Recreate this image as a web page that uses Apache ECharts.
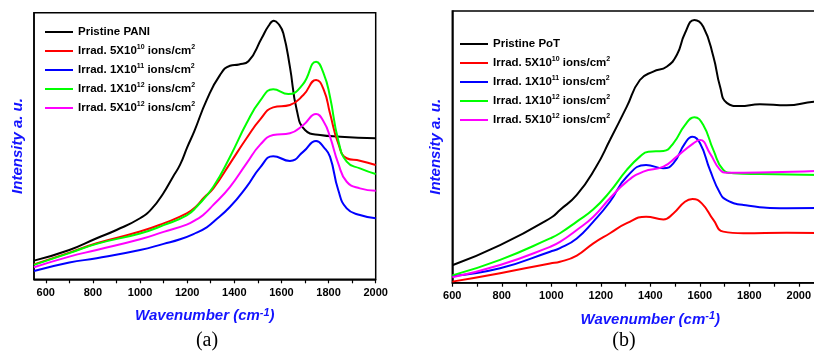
<!DOCTYPE html>
<html>
<head>
<meta charset="utf-8">
<script src="https://cdn.jsdelivr.net/npm/echarts@6/dist/echarts.min.js"></script>
<style>
  html, body { margin: 0; padding: 0; width: 814px; height: 355px; overflow: hidden; background: #fff; }
  #chartA { position: absolute; left: 0; top: 0; width: 410px; height: 355px; }
  #chartB { position: absolute; left: 410px; top: 0; width: 460px; height: 355px; }
</style>
</head>
<body>
<div id="chartA"></div>
<div id="chartB"></div>
<script>
// series labels (^ marks a superscript)
const namesA = ['Pristine PANI', 'Irrad. 5X10^10 ions/cm^2', 'Irrad. 1X10^11 ions/cm^2', 'Irrad. 1X10^12 ions/cm^2', 'Irrad. 5X10^12 ions/cm^2'];
const namesB = ['Pristine PoT', 'Irrad. 5X10^10 ions/cm^2', 'Irrad. 1X10^11 ions/cm^2', 'Irrad. 1X10^12 ions/cm^2', 'Irrad. 5X10^12 ions/cm^2'];
const colors = ['#000000', '#ff0000', '#0000ff', '#00ff00', '#ff00ff'];

const labelTicks = [600, 800, 1000, 1200, 1400, 1600, 1800, 2000];
const minorTicksA = [600, 700, 800, 900, 1000, 1100, 1200, 1300, 1400, 1500, 1600, 1700, 1800, 1900, 2000];
const minorTicksB = [600, 700, 800, 900, 1000, 1100, 1200, 1300, 1400, 1500, 1600, 1700, 1800, 1900, 2000, 2100, 2200];

// panel (a) : [wavenumber, intensity a.u.]
const paniPristine = [[550,7],[700,11],[816,15.4],[900,18.5],[1000,22.9],[1050,26.5],[1099,32.3],[1140,38.5],[1170,43],[1200,49.5],[1230,55.5],[1283,67.3],[1339,76.6],[1382,80.1],[1420,80.6],[1460,81.8],[1516,90.4],[1545,95],[1568,97],[1590,95.5],[1608,92.3],[1636,79.7],[1665,63.5],[1700,56],[1764,54.1],[1850,53.5],[2000,52.9]];
const paniIrr5e10 = [[550,5.6],[700,10],[816,13.5],[1000,17.9],[1100,21],[1198,24.7],[1240,27.5],[1270,30.5],[1311,34.1],[1382,43.5],[1452,52.9],[1510,60],[1565,64.5],[1636,65.4],[1693,69.1],[1747,74.8],[1780,71],[1806,62.3],[1841,51],[1877,45.4],[1933,44.5],[2000,42.9]];
const paniIrr1e11 = [[550,3.1],[700,6.3],[816,7.9],[1000,11],[1100,13.3],[1170,15],[1240,17.5],[1283,19.5],[1311,21.5],[1382,27.2],[1452,34.7],[1510,42],[1565,46.2],[1636,44.4],[1693,47.9],[1747,51.9],[1780,49.5],[1806,46],[1841,33.5],[1877,26.6],[1933,24.1],[2000,22.9]];
const paniIrr1e12 = [[550,5.4],[700,9.8],[816,13.3],[1000,17.2],[1100,20.3],[1198,24],[1240,27.2],[1311,34.7],[1382,46],[1452,58.5],[1510,67],[1565,71.3],[1629,69.5],[1690,73],[1747,81.6],[1780,77],[1806,68.5],[1841,52.2],[1877,44.1],[1933,41.6],[2000,39.5]];
const paniIrr5e12 = [[550,4.5],[700,8.5],[816,11],[1000,15],[1100,17.8],[1198,20.5],[1240,22.5],[1268,24.1],[1311,27.9],[1382,34.7],[1452,43.5],[1510,50.5],[1565,54.1],[1636,54.8],[1693,57.9],[1747,62],[1780,59],[1806,53.5],[1841,43.5],[1877,36.6],[1933,34.1],[2000,33.2]];

// panel (b)
const potPristine = [[600,6.4],[793,13.8],[1000,24],[1035,26.8],[1103,32.3],[1180,42.5],[1237,52.5],[1305,64.8],[1358,74.6],[1412,77.7],[1466,79.5],[1507,83.8],[1540,91.8],[1578,96.7],[1614,94.2],[1655,83.2],[1682,72.1],[1709,66.2],[1762,65],[1843,65.7],[1951,65.3],[2061,66.6],[2200,67]];
const potIrr5e10 = [[600,0.4],[793,3.5],[995,7.1],[1035,7.7],[1103,10],[1170,14.5],[1237,18.2],[1305,21.9],[1383,24.3],[1453,23.3],[1493,25.5],[1540,29.8],[1570,30.8],[1608,29.2],[1655,23.1],[1695,18.8],[1776,18.2],[1951,18.4],[2200,18.2]];
const potIrr1e11 = [[600,2.5],[793,5.3],[995,11.4],[1035,12.7],[1103,16.3],[1170,22.5],[1237,29.8],[1305,39],[1383,43.3],[1453,42.1],[1493,43.9],[1540,51.3],[1570,53.7],[1601,51.3],[1641,41.5],[1682,32.9],[1709,30.4],[1776,28.6],[1951,27.4],[2200,27.8]];
const potIrr1e12 = [[600,2.7],[793,8.4],[995,16.3],[1035,18.2],[1103,22.5],[1170,27],[1237,33.5],[1305,41.5],[1358,46.4],[1392,48.2],[1453,48.5],[1493,51.3],[1540,58],[1578,60.9],[1614,58],[1655,48.8],[1695,41.5],[1735,40.3],[1843,40],[2200,39.5]];
const potIrr5e12 = [[600,2],[793,6.5],[995,13.2],[1035,15],[1103,19.4],[1170,24.3],[1237,31.1],[1305,37.2],[1372,40.9],[1453,42.7],[1507,46.4],[1574,51.3],[1601,52.5],[1641,47.6],[1682,41.5],[1709,40.5],[1843,40.6],[2200,41.7]];

const font = 'Liberation Sans';
const blue = '#1414ff';

// turn 'x^10' into rich text with a superscript
function sup(text, n, s) {
  return '{' + n + '|' + text.replace(/\^(-?\d+)/g, '}{' + s + '|$1}{' + n + '|') + '}';
}

function makePanel(dom, cfg) {
  const chart = echarts.init(dom);
  chart.setOption({
    animation: false,
    grid: {
      left: cfg.grid[0], top: cfg.grid[1], right: cfg.grid[2], bottom: cfg.grid[3],
      show: true, borderColor: '#000', borderWidth: 1.5
    },
    legend: {
      orient: 'vertical',
      left: cfg.legend[0], top: cfg.legend[1], itemGap: cfg.legend[2],
      padding: 0,
      icon: 'rect', itemWidth: 28, itemHeight: 2,
      data: cfg.names,
      formatter: name => sup(name, 'n', 's'),
      textStyle: {
        rich: {
          n: { fontFamily: font, fontWeight: 'bold', fontSize: 11.5, color: '#000', lineHeight: 14 },
          s: { fontFamily: font, fontWeight: 'bold', fontSize: 7, color: '#000', lineHeight: 6, verticalAlign: 'top' }
        }
      }
    },
    xAxis: {
      type: 'value',
      min: cfg.xMin, max: cfg.xMax,
      name: sup('Wavenumber (cm^-1)', 'w', 'e'),
      nameLocation: 'middle', nameGap: 28,
      nameTextStyle: {
        rich: {
          w: { fontFamily: font, fontSize: 15, fontStyle: 'italic', fontWeight: 'bold', color: blue, lineHeight: 18 },
          e: { fontFamily: font, fontSize: 11, fontStyle: 'italic', fontWeight: 'bold', color: blue, lineHeight: 10, verticalAlign: 'top' }
        }
      },
      axisLine: { lineStyle: { color: '#000', width: 1.5 } },
      axisTick: { customValues: cfg.ticks, length: 4, lineStyle: { color: '#000', width: 1.2 } },
      axisLabel: {
        customValues: labelTicks, margin: 8, formatter: v => String(v),
        fontFamily: font, fontWeight: 'bold', fontSize: 11, color: '#000'
      },
      splitLine: { show: false }
    },
    yAxis: {
      type: 'value', min: 0, max: 100,
      name: 'Intensity a. u.',
      nameLocation: 'middle', nameGap: 9,
      nameTextStyle: { fontFamily: font, fontSize: 15, fontStyle: 'italic', fontWeight: 'bold', color: blue },
      axisLine: { show: true, lineStyle: { color: '#000', width: 1.5 } },
      axisTick: { show: false },
      axisLabel: { show: false },
      splitLine: { show: false }
    },
    graphic: [{
      type: 'text', x: cfg.caption[0], y: cfg.caption[1],
      style: { text: cfg.caption[2], textAlign: 'center', font: '20px "Liberation Serif"', fill: '#000' }
    }],
    series: cfg.data.map((d, i) => ({
      name: cfg.names[i],
      type: 'line',
      data: d,
      symbol: 'none',
      smooth: 0.5,
      color: colors[i],
      lineStyle: { width: 2, color: colors[i] }
    }))
  });
  return chart;
}

makePanel(document.getElementById('chartA'), {
  names: namesA,
  data: [paniPristine, paniIrr5e10, paniIrr1e11, paniIrr1e12, paniIrr5e12],
  xMin: 550, xMax: 2000, ticks: minorTicksA,
  grid: [34, 12.7, 34.3, 75.7],
  legend: [45, 26, 6],
  caption: [207, 331, '(a)']
});

makePanel(document.getElementById('chartB'), {
  names: namesB,
  data: [potPristine, potIrr5e10, potIrr1e11, potIrr1e12, potIrr5e12],
  xMin: 600, xMax: 2200, ticks: minorTicksB,
  grid: [42.3, 11, 21.7, 72.3],
  legend: [50, 38, 6],
  caption: [214, 331, '(b)']
});
</script>
</body>
</html>
